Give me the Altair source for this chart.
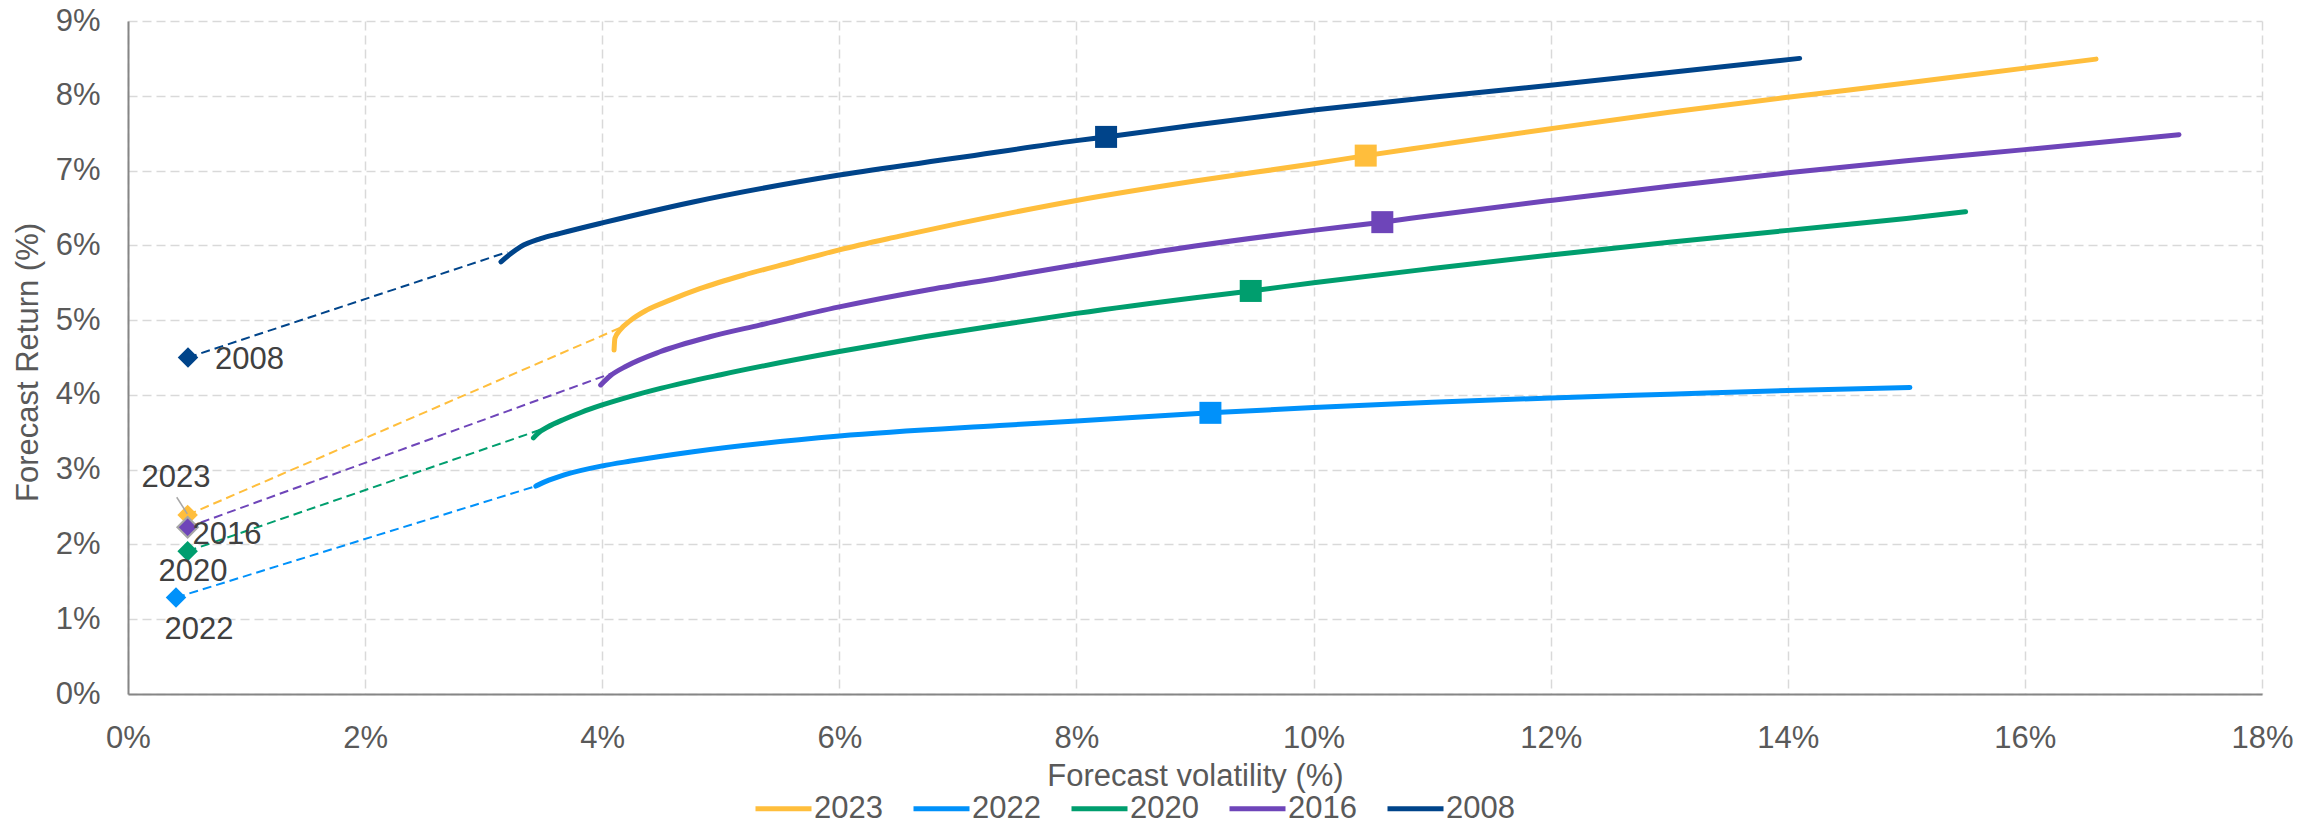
import altair as alt
import pandas as pd

FONT = "Liberation Sans, Arial, sans-serif"

# Series order and colours (legend order)
years = ["2023", "2022", "2020", "2016", "2008"]
colors = ["#FFBE3C", "#0091FA", "#009E6E", "#6E45B9", "#00448A"]

# Efficient frontier curves: forecast volatility (%) vs forecast return (%)
vol_2023 = [4.100, 4.107, 4.15, 4.234, 4.375, 4.571, 4.823, 5.188, 5.609, 6.0, 6.5, 7.0, 8.0, 9.0, 10.0, 10.44, 11.0, 12.0, 13.0, 14.0, 15.0, 16.0, 16.6]
ret_2023 = [4.60, 4.756, 4.867, 4.99, 5.133, 5.267, 5.42, 5.60, 5.777, 5.94, 6.12, 6.29, 6.60, 6.86, 7.09, 7.20, 7.33, 7.56, 7.78, 7.98, 8.17, 8.37, 8.49]

vol_2022 = [3.44, 3.52, 3.68, 4.0, 4.24, 4.767, 6.0, 7.35, 8.0, 9.13, 10.0, 11.0, 12.0, 13.0, 14.0, 15.03]
ret_2022 = [2.78, 2.84, 2.93, 3.05, 3.115, 3.24, 3.45, 3.59, 3.65, 3.76, 3.83, 3.90, 3.96, 4.01, 4.06, 4.10]

vol_2020 = [3.42, 3.46, 3.54, 3.68, 3.82, 4.0, 4.24, 4.5, 5.0, 6.0, 6.73, 7.35, 8.0, 9.0, 9.47, 10.0, 11.0, 12.0, 13.0, 14.0, 15.0, 15.5]
ret_2020 = [3.425, 3.49, 3.57, 3.675, 3.765, 3.865, 3.98, 4.09, 4.27, 4.58, 4.78, 4.935, 5.09, 5.30, 5.39, 5.50, 5.69, 5.87, 6.04, 6.20, 6.36, 6.45]

vol_2016 = [3.987, 4.066, 4.206, 4.487, 4.907, 5.328, 6.0, 6.73, 7.35, 8.0, 9.0, 10.0, 10.58, 11.0, 12.0, 13.0, 14.0, 15.0, 16.0, 17.3]
ret_2016 = [4.133, 4.253, 4.387, 4.577, 4.777, 4.933, 5.177, 5.40, 5.564, 5.74, 5.99, 6.20, 6.31, 6.40, 6.60, 6.79, 6.97, 7.13, 7.28, 7.48]

vol_2008 = [3.146, 3.23, 3.31, 3.48, 3.645, 4.0, 4.767, 6.0, 7.0, 8.0, 8.25, 9.0, 10.0, 11.0, 12.0, 13.0, 14.1]
ret_2008 = [5.78, 5.89, 5.98, 6.09, 6.16, 6.30, 6.58, 6.94, 7.17, 7.40, 7.45, 7.61, 7.81, 7.98, 8.14, 8.31, 8.50]

# Cash points (diamonds), tangency points and highlighted portfolios (squares), in legend order
cash_vol = [0.503, 0.405, 0.503, 0.503, 0.506]
cash_ret = [2.395, 1.29, 1.91, 2.23, 4.50]
tangent_vol = [4.20, 3.44, 3.50, 4.10, 3.20]
tangent_ret = [4.93, 2.78, 3.545, 4.30, 5.91]
marker_vol = [10.44, 9.13, 9.47, 10.58, 8.25]
marker_ret = [7.20, 3.76, 5.39, 6.31, 7.45]

# Year labels beside the cash points
label_text = ["2023", "2022", "2020", "2016", "2008"]
label_vol = [0.405, 0.599, 0.548, 0.545, 0.734]
label_ret = [2.894, 0.856, 1.637, 2.128, 4.47]
label_align = ["center", "center", "center", "left", "left"]

# Leader line from the 2023 label to its point
leader_vol = [0.411, 0.50]
leader_ret = [2.631, 2.41]

curve_vols = [vol_2023, vol_2022, vol_2020, vol_2016, vol_2008]
curve_rets = [ret_2023, ret_2022, ret_2020, ret_2016, ret_2008]

curves = pd.DataFrame(
    [
        {"year": y, "vol": v, "ret": r, "order": i}
        for y, vs, rs in zip(years, curve_vols, curve_rets)
        for i, (v, r) in enumerate(zip(vs, rs))
    ]
)

connectors = pd.DataFrame(
    [{"year": y, "vol": cv, "ret": cr, "order": 0} for y, cv, cr in zip(years, cash_vol, cash_ret)]
    + [{"year": y, "vol": tv, "ret": tr, "order": 1} for y, tv, tr in zip(years, tangent_vol, tangent_ret)]
)

cash = pd.DataFrame({"year": years, "vol": cash_vol, "ret": cash_ret})
markers = pd.DataFrame({"year": years, "vol": marker_vol, "ret": marker_ret})
labels = pd.DataFrame({"text": label_text, "vol": label_vol, "ret": label_ret, "align": label_align})
leader = pd.DataFrame({"vol": leader_vol, "ret": leader_ret})

x_scale = alt.Scale(domain=[0, 18], nice=False, zero=True)
y_scale = alt.Scale(domain=[0, 9], nice=False, zero=True)


def color_enc(legend=None):
    if legend is None:
        return alt.Color("year:N", scale=alt.Scale(domain=years, range=colors), legend=None)
    return alt.Color("year:N", scale=alt.Scale(domain=years, range=colors), sort=years, legend=legend)


x_enc = alt.X(
    "vol:Q",
    scale=x_scale,
    axis=alt.Axis(
        title="Forecast volatility (%)",
        values=list(range(0, 19, 2)),
        labelExpr="datum.value + '%'",
        labelFlush=False,
        labelOverlap=False,
        titleY=91,
        titleBaseline="alphabetic",
        labelPadding=29,
        offset=0,
    ),
)
y_enc = alt.Y(
    "ret:Q",
    scale=y_scale,
    axis=alt.Axis(
        title="Forecast Return (%)",
        values=list(range(0, 10)),
        labelExpr="datum.value + '%'",
        labelFlush=False,
        labelOverlap=False,
        titleX=-91,
        titleY=341,
        titleAngle=270,
        titleBaseline="alphabetic",
        titleAlign="center",
        labelPadding=28,
        offset=0,
    ),
)

legend = alt.Legend(
    title=None,
    orient="none",
    direction="horizontal",
    columns=5,
    legendX=625,
    legendY=757,
    symbolType="stroke",
    symbolSize=3136,
    symbolStrokeWidth=5,
    labelFontSize=31,
    labelFont=FONT,
    labelColor="#595959",
    labelOffset=0,
    columnPadding=20,
    padding=0,
)

lines = (
    alt.Chart(curves)
    .mark_line(strokeWidth=5, strokeCap="round", interpolate="monotone")
    .encode(x=x_enc, y=y_enc, order="order:Q", color=color_enc(legend))
)

dashed = (
    alt.Chart(connectors)
    .mark_line(strokeWidth=2, strokeDash=[9, 5])
    .encode(x="vol:Q", y="ret:Q", order="order:Q", detail="year:N", color=color_enc())
)

squares = (
    alt.Chart(markers)
    .mark_point(shape="square", filled=True, size=484, opacity=1)
    .encode(x="vol:Q", y="ret:Q", color=color_enc())
)

diamonds_main = (
    alt.Chart(cash[cash["year"] != "2016"])
    .mark_point(shape="diamond", filled=True, size=420, opacity=1)
    .encode(x="vol:Q", y="ret:Q", color=color_enc())
)

diamond_2016 = (
    alt.Chart(cash[cash["year"] == "2016"])
    .mark_point(shape="diamond", filled=True, size=420, opacity=1, stroke="#A6A6A6", strokeWidth=2)
    .encode(x="vol:Q", y="ret:Q", color=color_enc())
)

leader_line = (
    alt.Chart(leader)
    .mark_line(color="#A6A6A6", strokeWidth=1.5)
    .encode(x="vol:Q", y="ret:Q")
)

labels_center = (
    alt.Chart(labels[labels["align"] == "center"])
    .mark_text(align="center", baseline="middle", fontSize=31, font=FONT, color="#404040")
    .encode(x="vol:Q", y="ret:Q", text="text:N")
)
labels_left = (
    alt.Chart(labels[labels["align"] == "left"])
    .mark_text(align="left", baseline="middle", fontSize=31, font=FONT, color="#404040")
    .encode(x="vol:Q", y="ret:Q", text="text:N")
)

chart = (
    alt.layer(
        lines,
        dashed,
        squares,
        diamonds_main,
        diamond_2016,
        leader_line,
        labels_center,
        labels_left,
    )
    .resolve_scale(color="independent")
    .properties(
        width=2134,
        height=673,
        autosize=alt.AutoSizeParams(type="none"),
        padding={"left": 128, "top": 21, "right": 61, "bottom": 131},
    )
    .configure_view(strokeWidth=0)
    .configure_axis(
        labelFont=FONT,
        labelFontSize=31,
        labelColor="#595959",
        titleFont=FONT,
        titleFontSize=31,
        titleFontWeight="normal",
        titleColor="#595959",
        ticks=False,
        tickSize=0,
        grid=True,
        gridColor="#D9D9D9",
        gridDash=[9, 5],
        gridWidth=1.5,
        domainColor="#868686",
        domainWidth=2,
    )
)

chart.save("out.html", embed_options={"renderer": "svg", "actions": False})
